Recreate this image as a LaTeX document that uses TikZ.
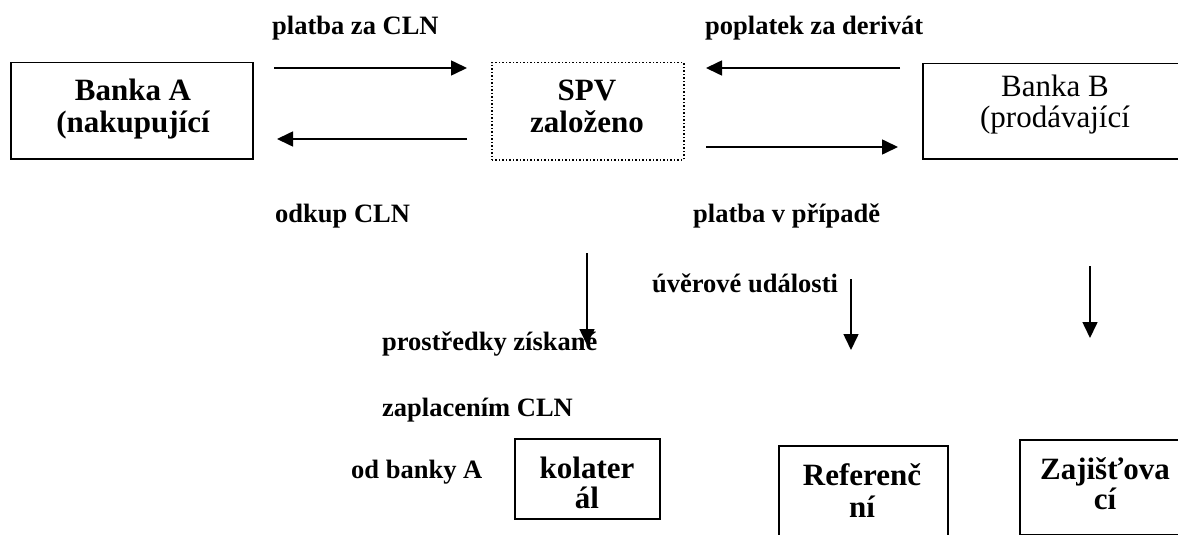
\documentclass[tikz,border=0pt]{standalone}
\usepackage{fontspec}
\setmainfont{Liberation Serif}
\usetikzlibrary{arrows.meta}

\begin{document}
\begin{tikzpicture}[
    x=1pt, y=-1pt,
    party/.style={
        draw,
        line width=1.5pt,
        inner sep=0pt,
        anchor=north west
    },
    vehicle/.style={
        draw,
        dotted,
        line width=1.5pt,
        inner sep=0pt,
        anchor=north west
    },
    box text/.style={
        align=center,
        anchor=base,
        inner sep=0pt,
        font=\bfseries\fontsize{31}{32}\selectfont
    },
    flow label/.style={
        anchor=base west,
        inner sep=0pt,
        font=\bfseries\fontsize{26.5}{30}\selectfont
    },
    flow/.style={
        -{Triangle[length=16pt,width=15pt]},
        line width=1.6pt
    }
]
\useasboundingbox (0,0) rectangle (1178,535);

% boxes
\node[party, minimum width=242, minimum height=96] (bankA) at (10,62) {};
\node[vehicle, minimum width=192, minimum height=97] (spv) at (491,62) {};
\node[party, minimum width=266, minimum height=95] (bankB) at (922,63) {};
\node[party, minimum width=145, minimum height=80] (kolateral) at (514,438) {};
\node[party, minimum width=169, minimum height=110] (reference) at (778,445) {};
\node[party, minimum width=172, minimum height=95] (zajisteni) at (1019,439) {};

% box texts (anchored at the last line)
\node[box text] (bankAtext) at (133,132) {Banka A\\(nakupující};
\node[box text] (spvtext) at (587,132) {SPV\\založeno};
\node[box text, font=\fontsize{31}{31}\selectfont] (bankBtext) at (1055,127) {Banka B\\(prodávající};
\node[box text, font=\bfseries\fontsize{31}{30}\selectfont] (kolateraltext) at (587,508) {kolater\\ál};
\node[box text] (referencetext) at (862,517) {Referenč\\ní};
\node[box text, font=\bfseries\fontsize{31}{30}\selectfont] (zajistenitext) at (1105,509) {Zajišťova\\cí};

% labels
\node[flow label] (platba) at (272,35) {platba za CLN};
\node[flow label] (poplatek) at (705,35) {poplatek za derivát};
\node[flow label] (odkup) at (275,222) {odkup CLN};
\node[flow label] (pripad) at (693,222) {platba v případě};
\node[flow label] (udalost) at (652,292) {úvěrové události};
\node[flow label] (prostredky) at (382,350) {prostředky získané};
\node[flow label] (zaplaceni) at (382,416) {zaplacením CLN};
\node[flow label] (odbanky) at (351,478) {od banky A};

% arrow ends
\coordinate (a1) at (274,68);  \coordinate (b1) at (467,68);
\coordinate (a2) at (467,139); \coordinate (b2) at (277,139);
\coordinate (a3) at (900,68);  \coordinate (b3) at (706,68);
\coordinate (a4) at (706,147); \coordinate (b4) at (898,147);
\coordinate (a5) at (587,253); \coordinate (b5) at (587,345);
\coordinate (a6) at (851,279); \coordinate (b6) at (851,350);
\coordinate (a7) at (1090,266); \coordinate (b7) at (1090,338);

\draw[flow] (a1) -- (b1);
\draw[flow] (a2) -- (b2);
\draw[flow] (a3) -- (b3);
\draw[flow] (a4) -- (b4);
\draw[flow] (a5) -- (b5);
\draw[flow] (a6) -- (b6);
\draw[flow] (a7) -- (b7);

\end{tikzpicture}
\end{document}
